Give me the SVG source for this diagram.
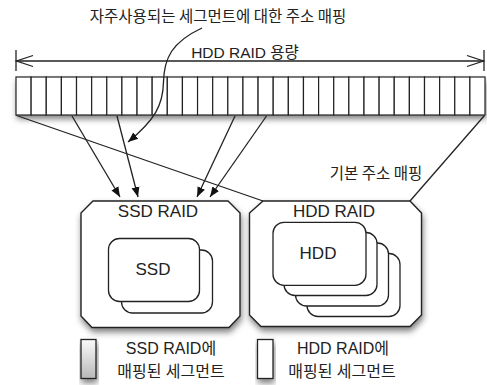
<svg xmlns="http://www.w3.org/2000/svg" width="487" height="385" viewBox="0 0 487 385">
<defs>
<style>
.ln{fill:none;stroke:#222;stroke-width:1.3}
.seg{fill:#fff;stroke:#222;stroke-width:1.2}
.box{fill:#fff;stroke:#222;stroke-width:1.4}
.disk{fill:#fff;stroke:#222;stroke-width:1.3}
.t{font-family:"Liberation Sans","Noto Sans CJK KR",sans-serif;fill:#222;text-anchor:middle}
.k{font-family:"Noto Sans CJK KR","Liberation Sans",sans-serif;fill:#222;text-anchor:middle}
</style>
<linearGradient id="g" x1="0" y1="0" x2="0" y2="1">
<stop offset="0" stop-color="#fafafa"/>
<stop offset="1" stop-color="#b8b8b8"/>
</linearGradient>
<filter id="sh" x="-10%" y="-10%" width="125%" height="140%">
<feDropShadow dx="1" dy="4" stdDeviation="3" flood-color="#000" flood-opacity="0.5"/>
</filter>
<marker id="ah" viewBox="0 0 10 10" refX="10" refY="5" markerWidth="10" markerHeight="10" markerUnits="userSpaceOnUse" orient="auto">
<path d="M0,1 L10,5 L0,9 Z" fill="#111"/>
</marker>
</defs>

<g id="capacity">
<line class="ln" x1="16" y1="50" x2="16" y2="71"/>
<line class="ln" x1="484" y1="50" x2="484" y2="71"/>
<line class="ln" x1="16" y1="61" x2="484" y2="61"/>
<polyline class="ln" points="33,55.5 16.5,61 33,66.5"/>
<polyline class="ln" points="467,55.5 483.5,61 467,66.5"/>
<text class="t" x="245" y="58" font-size="15.5">HDD RAID 용량</text>
</g>

<g id="bar">
<rect x="16" y="77" width="469" height="38" fill="#fff" filter="url(#sh)"/>
<g>
<rect class="seg" x="16" y="77" width="15.13" height="38"/>
<rect class="seg" x="31.13" y="77" width="15.13" height="38"/>
<rect class="seg" x="46.26" y="77" width="15.13" height="38"/>
<rect class="seg" x="61.39" y="77" width="15.13" height="38" fill="url(#g)"/>
<rect class="seg" x="76.52" y="77" width="15.13" height="38"/>
<rect class="seg" x="91.65" y="77" width="15.13" height="38"/>
<rect class="seg" x="106.78" y="77" width="15.13" height="38" fill="url(#g)"/>
<rect class="seg" x="121.91" y="77" width="15.13" height="38"/>
<rect class="seg" x="137.04" y="77" width="15.13" height="38"/>
<rect class="seg" x="152.17" y="77" width="15.13" height="38"/>
<rect class="seg" x="167.3" y="77" width="15.13" height="38"/>
<rect class="seg" x="182.43" y="77" width="15.13" height="38"/>
<rect class="seg" x="197.56" y="77" width="15.13" height="38"/>
<rect class="seg" x="212.69" y="77" width="15.13" height="38"/>
<rect class="seg" x="227.82" y="77" width="15.13" height="38" fill="url(#g)"/>
<rect class="seg" x="242.95" y="77" width="15.13" height="38"/>
<rect class="seg" x="258.08" y="77" width="15.13" height="38" fill="url(#g)"/>
<rect class="seg" x="273.21" y="77" width="15.13" height="38"/>
<rect class="seg" x="288.34" y="77" width="15.13" height="38"/>
<rect class="seg" x="303.47" y="77" width="15.13" height="38"/>
<rect class="seg" x="318.6" y="77" width="15.13" height="38"/>
<rect class="seg" x="333.73" y="77" width="15.13" height="38"/>
<rect class="seg" x="348.86" y="77" width="15.13" height="38"/>
<rect class="seg" x="363.99" y="77" width="15.13" height="38"/>
<rect class="seg" x="379.12" y="77" width="15.13" height="38"/>
<rect class="seg" x="394.25" y="77" width="15.13" height="38"/>
<rect class="seg" x="409.38" y="77" width="15.13" height="38"/>
<rect class="seg" x="424.51" y="77" width="15.13" height="38"/>
<rect class="seg" x="439.64" y="77" width="15.13" height="38"/>
<rect class="seg" x="454.77" y="77" width="15.13" height="38"/>
<rect class="seg" x="469.9" y="77" width="15.1" height="38"/>
</g>
</g>

<g id="ssd-raid">
<path class="box" filter="url(#sh)" d="M93,201 L228,201 L240,213 L240,316 L229,327.5 L92,327.5 L81,316 L81,213 Z"/>
<text class="t" x="158" y="217" font-size="17">SSD RAID</text>
<rect class="disk" x="121.5" y="250" width="91" height="63" rx="11"/>
<rect class="disk" x="108.5" y="238.5" width="91" height="63" rx="11"/>
<text class="t" x="153" y="275" font-size="17">SSD</text>
</g>

<g id="hdd-raid">
<path class="box" filter="url(#sh)" d="M263,201 L410,201 L421.5,213 L421.5,315 L410,326.5 L261,326.5 L249.5,315 L249.5,213 Z"/>
<text class="t" x="334" y="217" font-size="17">HDD RAID</text>
<rect class="disk" x="307" y="253.5" width="93" height="63" rx="11"/>
<rect class="disk" x="295.5" y="243" width="93" height="63" rx="11"/>
<rect class="disk" x="284" y="232.5" width="93" height="63" rx="11"/>
<rect class="disk" x="273" y="222.3" width="93" height="63" rx="11"/>
<text class="t" x="318" y="258.5" font-size="17">HDD</text>
</g>

<g id="connectors">
<line class="ln" x1="16.5" y1="115.5" x2="263" y2="201"/>
<line class="ln" x1="484.5" y1="115.5" x2="410" y2="201"/>
<line class="ln" x1="72" y1="116" x2="120" y2="197" marker-end="url(#ah)"/>
<line class="ln" x1="117" y1="116" x2="138" y2="197" marker-end="url(#ah)"/>
<line class="ln" x1="235" y1="116" x2="197" y2="197" marker-end="url(#ah)"/>
<line class="ln" x1="266.5" y1="116" x2="210" y2="197" marker-end="url(#ah)"/>
<path class="ln" d="M202,28 C172,42 164,58 163.5,82 C163,105 155,120 128,142" marker-end="url(#ah)"/>
</g>

<g id="labels">
<text class="k" x="218" y="22" font-size="15.5">자주사용되는 세그먼트에 대한 주소 매핑</text>
<text class="k" x="376" y="179" font-size="15.5">기본 주소 매핑</text>
</g>

<g id="legend-ssd">
<rect x="81" y="339.5" width="15" height="39" fill="url(#g)" stroke="#222" stroke-width="1.3" filter="url(#sh)"/>
<text class="t" x="171" y="354" font-size="16">SSD RAID에</text>
<text class="t" x="171" y="377" font-size="16">매핑된 세그먼트</text>
</g>

<g id="legend-hdd">
<rect x="257.5" y="339.5" width="15.5" height="39" fill="#fff" stroke="#222" stroke-width="1.3" filter="url(#sh)"/>
<text class="t" x="343" y="354" font-size="16">HDD RAID에</text>
<text class="t" x="342" y="377" font-size="16">매핑된 세그먼트</text>
</g>
</svg>
